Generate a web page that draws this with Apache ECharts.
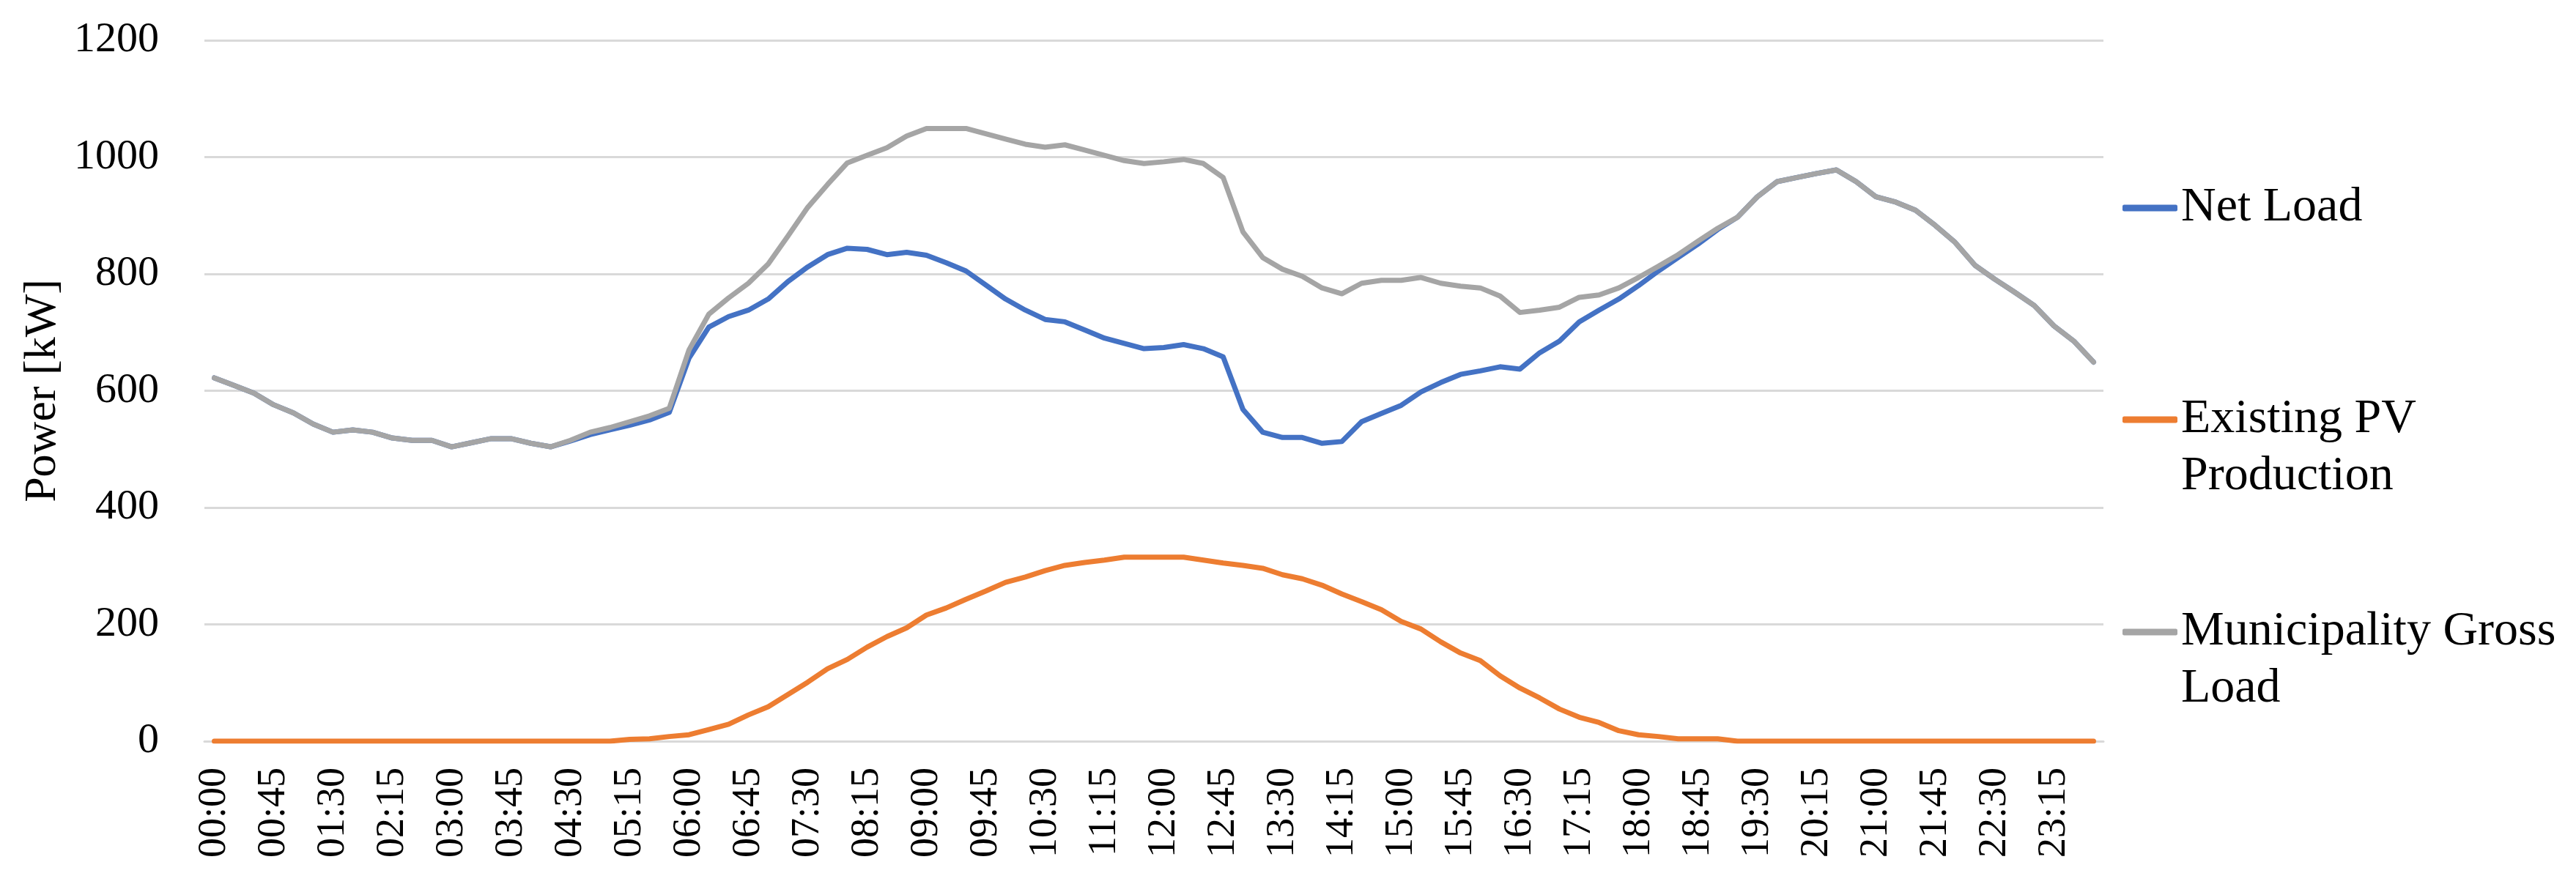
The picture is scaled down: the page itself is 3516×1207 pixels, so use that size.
<!DOCTYPE html>
<html>
<head>
<meta charset="utf-8">
<script src="https://cdn.jsdelivr.net/npm/echarts@6/dist/echarts.min.js"></script>
<style>
html,body{margin:0;padding:0;background:#fff;}
#chart{width:3516px;height:1207px;}
</style>
</head>
<body>
<div id="chart"></div>
<script>
var categories = [
"00:00","00:15","00:30","00:45","01:00","01:15","01:30","01:45",
"02:00","02:15","02:30","02:45","03:00","03:15","03:30","03:45",
"04:00","04:15","04:30","04:45","05:00","05:15","05:30","05:45",
"06:00","06:15","06:30","06:45","07:00","07:15","07:30","07:45",
"08:00","08:15","08:30","08:45","09:00","09:15","09:30","09:45",
"10:00","10:15","10:30","10:45","11:00","11:15","11:30","11:45",
"12:00","12:15","12:30","12:45","13:00","13:15","13:30","13:45",
"14:00","14:15","14:30","14:45","15:00","15:15","15:30","15:45",
"16:00","16:15","16:30","16:45","17:00","17:15","17:30","17:45",
"18:00","18:15","18:30","18:45","19:00","19:15","19:30","19:45",
"20:00","20:15","20:30","20:45","21:00","21:15","21:30","21:45",
"22:00","22:15","22:30","22:45","23:00","23:15","23:30","23:45"
];

var netLoad = [
622,609,596,576,562,543,529,533,529,519,515,515,504,511,518,518,
510,504,514,525,533,541,550,563,656,709,727,738,757,787,812,833,
844,842,833,837,832,819,805,781,757,738,722,718,704,690,681,672,
674,679,672,658,568,529,520,520,510,513,547,561,575,598,614,628,
634,641,637,665,685,718,738,757,780,805,828,851,876,897,932,958,
965,972,978,958,932,923,909,883,854,815,791,769,746,711,685,649
];

var pvProduction = [
0,0,0,0,0,0,0,0,0,0,0,0,0,0,0,0,
0,0,0,0,0,3,4,8,11,20,29,45,59,80,101,124,
140,161,179,194,216,228,243,257,272,281,292,301,306,310,315,315,
315,315,310,305,301,296,285,278,267,252,239,225,205,192,170,151,
138,112,91,74,55,41,32,18,11,8,4,4,4,0,0,0,
0,0,0,0,0,0,0,0,0,0,0,0,0,0,0,0
];

var grossLoad = [
622,609,596,576,562,543,529,533,529,519,515,515,504,511,518,518,
510,504,515,529,537,547,557,570,670,731,759,784,817,865,914,953,
990,1003,1016,1036,1049,1049,1049,1040,1031,1022,1017,1021,1012,1003,994,989,
992,996,989,965,872,828,808,796,776,766,784,789,789,794,784,779,
776,762,734,738,743,760,764,776,794,813,833,856,878,897,932,958,
965,972,978,958,932,923,909,883,854,815,791,769,746,711,685,649
];

var yTicks = {min: 0, max: 1200, interval: 200};
var seriesNames = ["Net Load", "Existing PV\nProduction", "Municipality Gross\nLoad"];
var seriesColors = ["#4472C4", "#ED7D31", "#A5A5A5"];

var chart = echarts.init(document.getElementById('chart'), null, {renderer: 'canvas'});

var legendBase = function (name, top, twoLine) {
  return {
    show: true,
    orient: 'vertical',
    left: 2897,
    top: top,
    padding: 0,
    icon: 'roundRect',
    itemWidth: 75,
    itemHeight: 9,
    itemGap: 0,
    data: [name],
    selectedMode: false,
    formatter: function (n) { return twoLine ? ' \n' + n : n; },
    textStyle: {
      fontFamily: 'Liberation Serif',
      fontSize: 66,
      color: '#000',
      lineHeight: 78
    }
  };
};

var option = {
  backgroundColor: '#ffffff',
  animation: false,
  grid: {left: 279, right: 645, top: 55, bottom: 195, containLabel: false},
  legend: [
    legendBase(seriesNames[0], 245, false),
    legendBase(seriesNames[1], 456, true),
    legendBase(seriesNames[2], 746, true)
  ],
  xAxis: {
    type: 'category',
    data: categories,
    boundaryGap: true,
    axisTick: {show: false},
    axisLine: {show: true, lineStyle: {color: '#D9D9D9', width: 3}},
    axisLabel: {
      interval: 2,
      rotate: 90,
      margin: 36,
      fontFamily: 'Liberation Serif',
      fontSize: 54,
      color: '#000'
    },
    splitLine: {show: false}
  },
  yAxis: {
    type: 'value',
    min: yTicks.min,
    max: yTicks.max,
    interval: yTicks.interval,
    name: 'Power [kW]',
    nameLocation: 'middle',
    nameGap: 170,
    nameTextStyle: {fontFamily: 'Liberation Serif', fontSize: 62, color: '#000'},
    axisLine: {show: false},
    axisTick: {show: false},
    axisLabel: {
      margin: 62, fontFamily: 'Liberation Serif', fontSize: 58, color: '#000',
      formatter: function (v) { return String(v); }
    },
    splitLine: {show: true, lineStyle: {color: '#D9D9D9', width: 3}}
  },
  series: [
    {
      name: seriesNames[0], type: 'line', data: netLoad, symbol: 'none', smooth: false,
      color: seriesColors[0],
      lineStyle: {color: seriesColors[0], width: 7, cap: 'round', join: 'round'}
    },
    {
      name: seriesNames[1], type: 'line', data: pvProduction, symbol: 'none', smooth: false,
      color: seriesColors[1],
      lineStyle: {color: seriesColors[1], width: 7, cap: 'round', join: 'round'}
    },
    {
      name: seriesNames[2], type: 'line', data: grossLoad, symbol: 'none', smooth: false,
      color: seriesColors[2],
      lineStyle: {color: seriesColors[2], width: 7, cap: 'round', join: 'round'}
    }
  ]
};
chart.setOption(option);
</script>
</body>
</html>
